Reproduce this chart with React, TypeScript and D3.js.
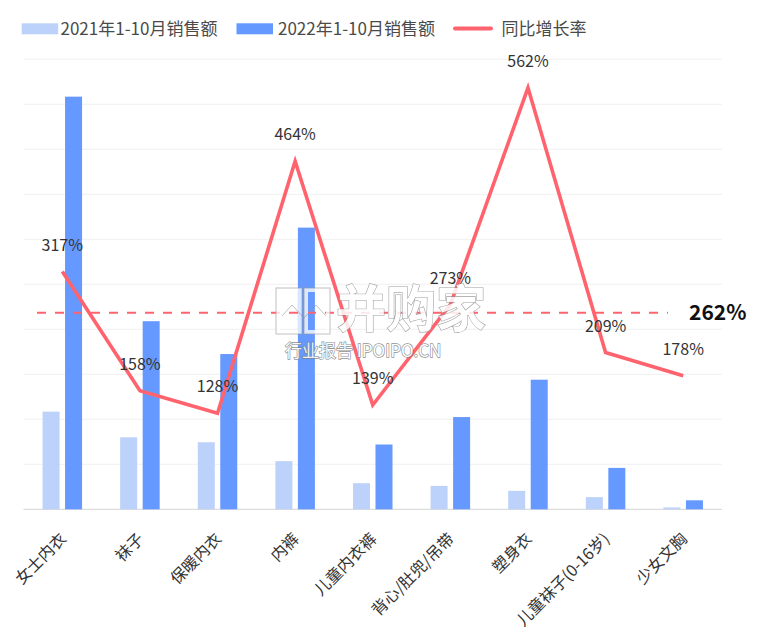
import React from "react";
import * as d3 from "d3";

const categories = ["女士内衣", "袜子", "保暖内衣", "内裤", "儿童内衣裤", "背心/肚兜/吊带", "塑身衣", "儿童袜子(0-16岁)", "少女文胸"];
const sales2021 = [21.7, 16.0, 14.9, 10.7, 5.8, 5.2, 4.1, 2.7, 0.4];
const sales2022 = [91.7, 41.8, 34.5, 62.6, 14.4, 20.5, 28.8, 9.2, 2.0];
const growth = [317, 158, 128, 464, 139, 273, 562, 209, 178];
const averageGrowth = 262;
const seriesNames = ["2021年1-10月销售额", "2022年1-10月销售额", "同比增长率"];

const W = 759;
const H = 637;
const FONT = '"Noto Sans CJK SC", "Noto Sans", sans-serif';
const LIGHT = "#BCD2FA";
const DARK = "#6699FF";
const RED = "#FF636E";

export default function App() {
  const left = 23.5, right = 722, top = 59.3, bottom = 509.3;
  const x = d3.scaleBand<string>().domain(categories).range([left, right]).padding(0);
  const inner = d3.scaleBand<string>().domain(["a", "b"]).range([-19.75, 19.75]).paddingInner(0.244).paddingOuter(0);
  const yBar = d3.scaleLinear().domain([0, 100]).range([bottom, top]);
  const yRate = d3.scaleLinear().domain([0, 600]).range([bottom, top]);
  const cx = (c: string) => (x(c) as number) + x.bandwidth() / 2;
  const grid = yBar.ticks(10);
  const line = d3.line<number>().x((_, i) => cx(categories[i])).y((d) => yRate(d));

  return (
    <svg width={W} height={H} style={{ position: "absolute", left: 0, top: 0, background: "#fff" }} fontFamily={FONT}>
      <rect width={W} height={H} fill="#fff" />
      {/* legend */}
      <g fontSize={17} fill="#4a4a4a">
        <rect x={21.7} y={23.3} width={36.5} height={11} fill={LIGHT} />
        <text x={60.5} y={35}>{seriesNames[0]}</text>
        <rect x={236.5} y={23.3} width={36.5} height={11} fill={DARK} />
        <text x={278} y={35}>{seriesNames[1]}</text>
        <line x1={455} x2={491} y1={28.5} y2={28.5} stroke={RED} strokeWidth={4} strokeLinecap="round" />
        <text x={501.5} y={35}>{seriesNames[2]}</text>
      </g>
      {/* grid */}
      {grid.map((t) => (
        <line key={t} x1={left} x2={right} y1={yBar(t)} y2={yBar(t)} stroke={t === 0 ? "#D4D4D4" : "#F0F0F0"} strokeWidth={1} />
      ))}
      {/* bars */}
      {categories.map((c, i) => (
        <g key={c}>
          <rect x={cx(c) + (inner("a") as number)} y={yBar(sales2021[i])} width={inner.bandwidth()} height={bottom - yBar(sales2021[i])} fill={LIGHT} />
          <rect x={cx(c) + (inner("b") as number)} y={yBar(sales2022[i])} width={inner.bandwidth()} height={bottom - yBar(sales2022[i])} fill={DARK} />
        </g>
      ))}
      {/* average dashed line */}
      <line x1={37} x2={668} y1={yRate(averageGrowth)} y2={yRate(averageGrowth)} stroke={RED} strokeWidth={2} strokeDasharray="9,9" />
      <text x={689} y={yRate(averageGrowth) + 7.5} fontSize={21} fontWeight={700} fill="#111">{averageGrowth}%</text>
      {/* growth line */}
      <path d={line(growth) || ""} fill="none" stroke={RED} strokeWidth={3.6} strokeLinejoin="miter" />
      {growth.map((g, i) => (
        <text key={i} x={cx(categories[i])} y={yRate(g) - 21} textAnchor="middle" fontSize={16} fill="#333">{g}%</text>
      ))}
      {/* category labels */}
      {categories.map((c) => (
        <text key={c} transform={`translate(${cx(c)},535) rotate(-45)`} textAnchor="end" dominantBaseline="central" fontSize={16} fill="#333">{c}</text>
      ))}
      {/* watermark */}
      <g opacity={0.85}>
        <g fill="none" stroke="#fff" strokeWidth={4} strokeOpacity={0.9}>
          <rect x={278} y={290} width={22} height={42} />
          <rect x={306} y={290} width={22} height={42} />
        </g>
        <g fill="none" stroke="#999" strokeWidth={1} strokeOpacity={0.7}>
          <rect x={276} y={288} width={26} height={46} />
          <rect x={304} y={288} width={26} height={46} />
          <polyline points="282,316 292,305 304,318 316,305 326,316" />
        </g>
        <text x={336} y={327} fontSize={50} fontWeight={700} fill="#fff" stroke="#909090" strokeWidth={1.2} paintOrder="stroke">并购家</text>
        <text x={285} y={357} fontSize={17} fill="#fff" stroke="#808080" strokeWidth={1.3} paintOrder="stroke">行业报告 IPOIPO.CN</text>
      </g>
    </svg>
  );
}
